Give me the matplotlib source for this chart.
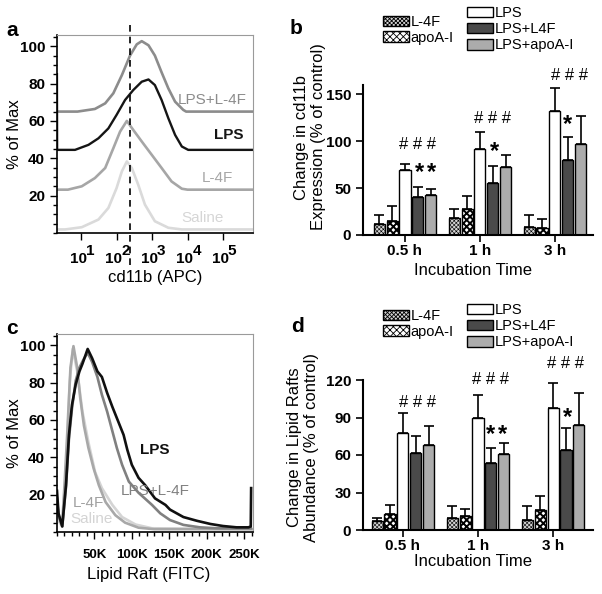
import numpy as np
import matplotlib
matplotlib.use('Agg')
import matplotlib.pyplot as plt
from matplotlib.ticker import MultipleLocator, LogLocator, NullFormatter

plt.rcParams['font.family'] = ['Liberation Sans', 'DejaVu Sans']
plt.rcParams['hatch.linewidth'] = 0.6

# ---- panel a: cd11b histograms (x in log10 units, y in % of max, offset) ----
a_lpsl4f_x = [0.32, 0.90, 1.39, 1.68, 1.91, 2.15, 2.38, 2.57, 2.71, 2.90, 3.08, 3.27, 3.46, 3.65, 3.88, 3.96, 5.85]
a_lpsl4f_y = [65, 65, 66.4, 69.4, 74.8, 84.5, 95, 101, 102.7, 100.5, 95, 86, 77.4, 70.3, 65.9, 65, 65]
a_lps_x = [0.32, 0.325, 0.83, 1.21, 1.49, 1.77, 2.0, 2.24, 2.47, 2.71, 2.90, 3.08, 3.27, 3.46, 3.65, 3.84, 4.02, 5.85]
a_lps_y = [85, 44.5, 44.5, 47.2, 50.7, 56, 63.2, 71.2, 76.5, 81, 82.2, 79.2, 71.2, 61.4, 52.5, 46.3, 44.5, 44.5]
a_l4f_x = [0.32, 0.63, 1.02, 1.39, 1.68, 1.91, 2.10, 2.29, 2.47, 2.71, 2.99, 3.27, 3.55, 3.84, 4.0, 5.85]
a_l4f_y = [23.2, 23.2, 25, 29.4, 34.8, 45.4, 54.3, 60, 55.2, 49, 41.9, 34.8, 27.6, 23.7, 23.2, 23.2]
a_sal_x = [0.32, 0.55, 1.02, 1.49, 1.77, 2.0, 2.15, 2.29, 2.43, 2.61, 2.80, 3.08, 3.46, 3.84, 5.85]
a_sal_y = [1.9, 1.9, 3.1, 7.2, 13.4, 24, 33, 38.3, 34.8, 25.9, 15.2, 6.3, 2.8, 1.9, 1.9]
a_gate = 240
a_xticks = [1e1, 1e2, 1e3, 1e4, 1e5]
a_exponents = ['1', '2', '3', '4', '5']

# ---- panel c: lipid raft histograms (x in thousands) ----
c_lps_x = [0, 2, 7, 12, 16, 20, 25, 30, 34, 41, 47, 54, 60, 67, 74, 82, 89, 94, 100, 109, 118, 131, 145, 151, 169, 187, 205, 222, 240, 256, 259, 259.5]
c_lps_y = [22, 10, 3, 25, 52, 68, 79, 86, 90, 98, 93, 86, 83, 74.5, 67, 59, 52, 44, 36, 29, 25, 18, 14.5, 12, 8, 6, 4.3, 3.2, 2.5, 2.5, 3, 23.5]
c_lpsl4f_x = [0, 2, 7, 12, 16, 20, 25, 30, 35, 41, 47, 54, 60, 67, 74, 80, 87, 96, 109, 127, 138, 151, 169, 191, 213, 240, 259]
c_lpsl4f_y = [18, 9, 3, 24, 50, 66, 81, 88, 92, 96, 91, 83, 73.5, 64.5, 54, 45, 36, 27, 21, 14.5, 10, 6.4, 3.8, 2.5, 2, 2, 2]
c_l4f_x = [0, 2, 7, 10, 13.6, 18, 22, 27, 31, 36, 42, 49, 56, 65, 78, 91, 109, 130, 262]
c_l4f_y = [16, 8, 5, 25, 52, 88, 99.5, 88, 72, 57, 45, 34, 25, 16, 9, 5, 2.3, 1.5, 1.5]
c_sal_x = [0, 2, 7, 10, 13.6, 17, 21, 27, 34, 42, 51, 60, 74, 87, 105, 127, 262]
c_sal_y = [12, 6, 3, 20, 46, 80, 98, 86, 64.5, 48, 32, 23.5, 14.5, 8, 4, 2, 1.5]
c_xticks = [50, 100, 150, 200, 250]
c_xlabels = ['50K', '100K', '150K', '200K', '250K']

# ---- bar panels ----
times = ['0.5 h', '1 h', '3 h']
treatments = ['L-4F', 'apoA-I', 'LPS', 'LPS+L4F', 'LPS+apoA-I']

b_l4f = [12, 18, 9]
b_apoa = [15, 28, 7]
b_lps = [69, 92, 132]
b_lpsl4f = [41, 55, 80]
b_lpsapoa = [43, 73, 97]
b_l4f_err = [9, 10, 12]
b_apoa_err = [16, 14, 10]
b_lps_err = [7, 18, 25]
b_lpsl4f_err = [10, 19, 25]
b_lpsapoa_err = [6, 12, 30]
b_hash_x = [0.17, 1.17, 2.2]
b_hash_y = [96, 124, 170]
b_star_x = [0.19, 0.36, 1.19, 2.17]
b_star_y = [67, 67, 89, 118]

d_l4f = [7, 10, 8]
d_apoa = [13, 11, 16]
d_lps = [78, 90, 98]
d_lpsl4f = [62, 54, 64]
d_lpsapoa = [68, 61, 84]
d_l4f_err = [3, 9, 11]
d_apoa_err = [7, 6, 11]
d_lps_err = [16, 18, 20]
d_lpsl4f_err = [13, 12, 18]
d_lpsapoa_err = [15, 9, 26]
d_hash_x = [0.19, 1.16, 2.16]
d_hash_y = [102, 120, 133]
d_star_x = [1.16, 1.33, 2.19]
d_star_y = [76, 76, 90]

W, H = 602, 594
fig = plt.figure(figsize=(W / 100, H / 100), dpi=100)


def box(l, t, r, b):
    return [l / W, 1 - b / H, (r - l) / W, (b - t) / H]


def style_hist(ax):
    ax.set_ylim(0, 106)
    ax.set_yticks([20, 40, 60, 80, 100])
    ax.yaxis.set_minor_locator(MultipleLocator(5))
    ax.tick_params(which='both', direction='out', top=False, right=False, width=1, labelsize=11)
    ax.tick_params(which='major', length=5)
    ax.tick_params(which='minor', length=3)
    for s in ['top', 'right']:
        ax.spines[s].set_color('#9a9a9a')
    for s in ['left', 'bottom']:
        ax.spines[s].set_linewidth(1.2)
    ax.set_ylabel('% of Max', fontsize=12)
    ax.yaxis.set_label_coords(-0.18, 0.5)
    for t in ax.get_yticklabels():
        t.set_fontweight('bold')


# panel a
ax = fig.add_axes(box(57, 35, 253, 233))
ax.set_xscale('log')
ax.plot(10 ** np.array(a_sal_x), a_sal_y, color='#dadada', lw=1.9)
ax.plot(10 ** np.array(a_l4f_x), a_l4f_y, color='#a6a6a6', lw=1.9)
ax.plot(10 ** np.array(a_lpsl4f_x), a_lpsl4f_y, color='#8c8c8c', lw=1.9)
ax.plot(10 ** np.array(a_lps_x), a_lps_y, color='#151515', lw=1.7)
ax.set_xlim(2.1, 7e5)
ax.set_xticks(a_xticks)
ax.set_xticklabels([''] * len(a_xticks))
ax.xaxis.set_minor_locator(LogLocator(subs=np.arange(2, 10)))
ax.xaxis.set_minor_formatter(NullFormatter())
style_hist(ax)
for t, e in zip(a_xticks, a_exponents):
    ax.annotate('10', xy=(t, 0), xycoords=('data', 'axes fraction'), xytext=(-3, -26),
                textcoords='offset pixels', ha='center', va='center', fontsize=11, fontweight='bold')
    ax.annotate(e, xy=(t, 0), xycoords=('data', 'axes fraction'), xytext=(9, -18),
                textcoords='offset pixels', ha='center', va='center', fontsize=11, fontweight='bold')
ax.set_xlabel('cd11b (APC)', fontsize=12)
ax.xaxis.set_label_coords(0.5, -0.185)
ax.axvline(a_gate, ymin=-0.16, ymax=1.066, clip_on=False, color='k', ls=(0, (4, 3)), lw=1.2)
ax.text(0.97, 71, 'LPS+L-4F', transform=ax.get_yaxis_transform(), ha='right', va='center', color='#8c8c8c', fontsize=11)
ax.text(0.95, 52.5, 'LPS', transform=ax.get_yaxis_transform(), ha='right', va='center', color='#151515', fontsize=11, fontweight='bold')
ax.text(0.90, 29.7, 'L-4F', transform=ax.get_yaxis_transform(), ha='right', va='center', color='#a6a6a6', fontsize=11)
ax.text(0.85, 8, 'Saline', transform=ax.get_yaxis_transform(), ha='right', va='center', color='#d6d6d6', fontsize=11)

# panel c
ax = fig.add_axes(box(57, 334, 253, 532))
ax.plot(c_sal_x, c_sal_y, color='#d4d4d4', lw=1.9)
ax.plot(c_l4f_x, c_l4f_y, color='#a8a8a8', lw=1.9)
ax.plot(c_lpsl4f_x, c_lpsl4f_y, color='#808080', lw=1.9)
ax.plot(c_lps_x, c_lps_y, color='#101010', lw=1.9)
ax.set_xlim(0, 262)
ax.set_xticks(c_xticks)
ax.set_xticklabels(c_xlabels)
ax.xaxis.set_minor_locator(MultipleLocator(10))
style_hist(ax)
ax.tick_params(axis='x', which='major', pad=7, labelsize=9.5)
for t in ax.get_xticklabels():
    t.set_fontweight('bold')
ax.set_xlabel('Lipid Raft (FITC)', fontsize=12)
ax.xaxis.set_label_coords(0.47, -0.175)
ax.text(85, 22, 'LPS+L-4F', ha='left', va='center', color='#808080', fontsize=11)
ax.text(111, 44, 'LPS', ha='left', va='center', color='#101010', fontsize=11, fontweight='bold')
ax.text(21, 15.5, 'L-4F', ha='left', va='center', color='#a0a0a0', fontsize=11)
ax.text(18, 7, 'Saline', ha='left', va='center', color='#d4d4d4', fontsize=11)


def bar_panel(rect, xlim, ymax, yticks, means, errs, hash_x, hash_y, star_x, star_y, ylabel, ylabel_xy, xlabel_y,
              leg_left, leg_right):
    ax = fig.add_axes(box(*rect))
    faces = ['#d4d4d4', 'white', 'white', '#4a4a4a', '#acacac']
    hatches = ['xxxxxxxx', 'xxxxx', None, None, None]
    hatch_lw = [0.4, 1.4, 0.6, 0.6, 0.6]
    step = 0.173
    width = 0.147
    bars = []
    for i in range(5):
        plt.rcParams['hatch.linewidth'] = hatch_lw[i]
        xs = np.arange(3) + (i - 2) * step
        bc = ax.bar(xs, means[i], width, color=faces[i], edgecolor='black', linewidth=1.0, hatch=hatches[i],
                    yerr=[np.zeros(3), errs[i]], capsize=3.5,
                    error_kw=dict(ecolor='black', elinewidth=1.2, capthick=1.2), zorder=2)
        bars.append(bc)
    ax.set_xlim(*xlim)
    ax.set_ylim(0, ymax)
    ax.set_yticks(yticks)
    ax.set_xticks([0, 1, 2])
    ax.set_xticklabels(times)
    for t in ax.get_xticklabels() + ax.get_yticklabels():
        t.set_fontweight('bold')
    ax.tick_params(direction='out', length=5, width=1.2, labelsize=11)
    ax.tick_params(axis='x', pad=1.5)
    for s in ['top', 'right']:
        ax.spines[s].set_visible(False)
    for s in ['left', 'bottom']:
        ax.spines[s].set_linewidth(1.5)
    ax.set_xlabel('Incubation Time', fontsize=12)
    ax.xaxis.set_label_coords(0.48, xlabel_y)
    for x, y in zip(hash_x, hash_y):
        ax.text(x, y, '# # #', ha='center', va='center', fontsize=12, clip_on=False)
    for x, y in zip(star_x, star_y):
        ax.text(x, y, '*', ha='center', va='center', fontsize=17, fontweight='bold', clip_on=False)
    fig.text(ylabel_xy[0] / W, 1 - ylabel_xy[1] / H, ylabel, rotation=90, ha='center', va='center',
             multialignment='center', fontsize=12, linespacing=1.15)
    l1 = ax.legend(bars[:2], treatments[:2], loc='upper left', bbox_to_anchor=(leg_left[0] / W, 1 - leg_left[1] / H),
                   bbox_transform=fig.transFigure, frameon=False, fontsize=10.5, handlelength=1.75, handleheight=0.75,
                   handletextpad=0.15, labelspacing=0.12, borderpad=0, borderaxespad=0)
    ax.add_artist(l1)
    ax.legend(bars[2:], treatments[2:], loc='upper left', bbox_to_anchor=(leg_right[0] / W, 1 - leg_right[1] / H),
              bbox_transform=fig.transFigure, frameon=False, fontsize=10.5, handlelength=1.75, handleheight=0.75,
              handletextpad=0.15, labelspacing=0.15, borderpad=0, borderaxespad=0)
    return ax


bar_panel((363, 85, 593, 235), (-0.56, 2.507), 160, [0, 50, 100, 150],
          [b_l4f, b_apoa, b_lps, b_lpsl4f, b_lpsapoa],
          [b_l4f_err, b_apoa_err, b_lps_err, b_lpsl4f_err, b_lpsapoa_err],
          b_hash_x, b_hash_y, b_star_x, b_star_y,
          'Change in cd11b\nExpression (% of control)', (310, 137), -0.19, (383, 15), (467, 6))

bar_panel((363, 380, 593, 530), (-0.533, 2.533), 120, [0, 30, 60, 90, 120],
          [d_l4f, d_apoa, d_lps, d_lpsl4f, d_lpsapoa],
          [d_l4f_err, d_apoa_err, d_lps_err, d_lpsl4f_err, d_lpsapoa_err],
          d_hash_x, d_hash_y, d_star_x, d_star_y,
          'Change in Lipid Rafts\nAbundance (% of control)', (303, 447), -0.16, (383, 309), (467, 303))

for lab, x, y in [('a', 12, 30), ('b', 296, 29), ('c', 12, 328), ('d', 298, 327)]:
    fig.text(x / W, 1 - y / H, lab, ha='center', va='center', fontsize=15, fontweight='bold')

fig.savefig('out.png', dpi=100)
